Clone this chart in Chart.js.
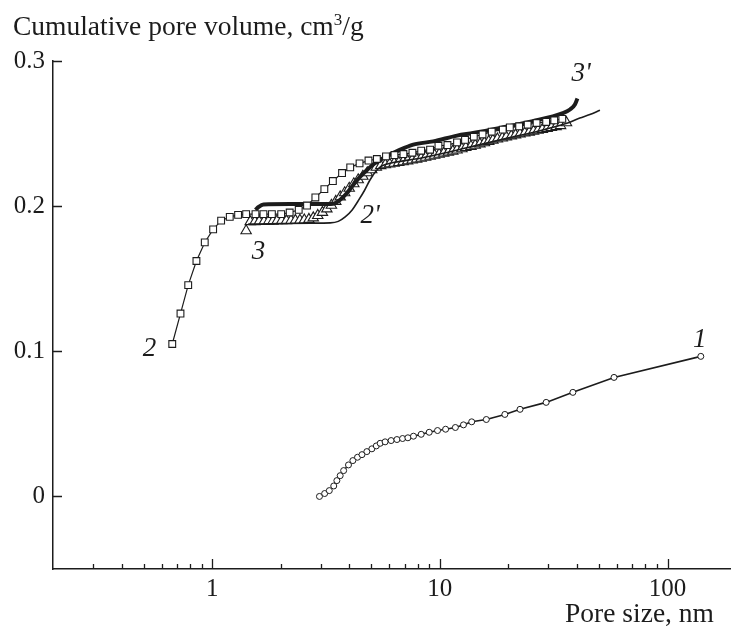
<!DOCTYPE html>
<html>
<head>
<meta charset="utf-8">
<script src="https://cdn.jsdelivr.net/npm/chart.js@4/dist/chart.umd.min.js"></script>
<style>
  html, body { margin: 0; padding: 0; background: #fff; }
  #wrap { width: 731px; height: 633px; }
</style>
</head>
<body>
<div id="wrap"><canvas id="c" width="731" height="633"></canvas></div>
<script>
// Pore size (nm) and cumulative pore volume (cm3/g) for each curve
const sizes1 = [2.96, 3.12, 3.27, 3.42, 3.53, 3.65, 3.78, 3.97, 4.15, 4.35, 4.55, 4.78, 5.03, 5.26, 5.47, 5.75,
  6.11, 6.48, 6.86, 7.24, 7.66, 8.28, 8.98, 9.77, 10.6, 11.7, 12.7, 13.8, 16.0, 19.3, 22.5, 29.3, 38.4, 58.2, 140];
const volume1 = [0, 0.002, 0.004, 0.0072, 0.0109, 0.0143, 0.0178, 0.0217, 0.0247, 0.027, 0.0288, 0.0309, 0.0328,
  0.0348, 0.0366, 0.0376, 0.0385, 0.0392, 0.0399, 0.0404, 0.0415, 0.0428, 0.0442, 0.0454, 0.0463, 0.0475, 0.0493,
  0.0514, 0.053, 0.0565, 0.060, 0.0648, 0.0717, 0.082, 0.0965];

const sizes2 = [0.668, 0.726, 0.785, 0.853, 0.928, 1.01, 1.095, 1.195, 1.30, 1.41, 1.55, 1.68, 1.83, 2.01, 2.19,
  2.40, 2.61, 2.84, 3.11, 3.39, 3.72, 4.04, 4.44, 4.86, 5.29, 5.80, 6.32, 6.92, 7.58, 8.28, 9.06, 9.86, 10.8, 11.9,
  12.9, 14.1, 15.4, 16.9, 18.9, 20.3, 22.3, 24.3, 26.6, 29.3, 31.8, 34.5];
const volume2 = [0.105, 0.126, 0.1456, 0.1622, 0.175, 0.184, 0.190, 0.1926, 0.194, 0.1945, 0.1945, 0.1945, 0.1945,
  0.1945, 0.1956, 0.1974, 0.2004, 0.206, 0.2117, 0.2173, 0.2228, 0.2267, 0.2295, 0.2314, 0.2325, 0.2343, 0.2352,
  0.2359, 0.2368, 0.2382, 0.2389, 0.2416, 0.2421, 0.2439, 0.2457, 0.2478, 0.2494, 0.2513, 0.2527, 0.2543, 0.2550,
  0.2561, 0.2573, 0.2580, 0.2591, 0.2601];

const sizes3 = [1.41, 1.47, 1.54, 1.61, 1.69, 1.77, 1.85, 1.93, 2.02, 2.12, 2.22, 2.32, 2.43, 2.54, 2.66, 2.78,
  2.91, 3.05, 3.19, 3.34, 3.49, 3.65, 3.82, 4.00, 4.19, 4.38, 4.59, 4.80, 5.02, 5.26, 5.50, 5.76, 6.02, 6.30, 6.60,
  6.90, 7.22, 7.56, 7.91, 8.28, 8.66, 9.07, 9.49, 9.93, 10.4, 10.9, 11.4, 11.9, 12.5, 13.0, 13.7, 14.3, 15.0, 15.7,
  16.4, 17.1, 17.9, 18.8, 19.6, 20.6, 21.5, 22.5, 23.6, 24.7, 25.8, 27.0, 28.2, 29.6, 30.9, 32.4, 33.9, 36.0];
const volume3 = [0.183, 0.1893, 0.1893, 0.1895, 0.1895, 0.1897, 0.1897, 0.1899, 0.1899, 0.1900, 0.1901, 0.1902,
  0.1903, 0.1905, 0.1909, 0.1919, 0.1936, 0.1957, 0.1981, 0.2006, 0.2033, 0.2064, 0.2092, 0.2123, 0.2154, 0.2182,
  0.2206, 0.2230, 0.2251, 0.2268, 0.2279, 0.2285, 0.2291, 0.2296, 0.2301, 0.2306, 0.2312, 0.2318, 0.2324, 0.2330,
  0.2337, 0.2344, 0.2351, 0.2358, 0.2365, 0.2372, 0.2379, 0.2387, 0.2395, 0.2404, 0.2412, 0.2420, 0.2429, 0.2437,
  0.2446, 0.2455, 0.2463, 0.2470, 0.2477, 0.2484, 0.2491, 0.2498, 0.2504, 0.2510, 0.2517, 0.2523, 0.2529, 0.2536,
  0.2542, 0.2548, 0.2555, 0.2575];

// Model curves 2' (thin) and 3' (thick)
const sizes2p = [1.44, 1.99, 2.70, 3.30, 3.58, 3.84, 4.12, 4.38, 4.66, 4.94, 5.26, 5.58, 6.18, 8.20, 11.1, 15.0,
  20.3, 27.5, 35.8, 41.2, 45.6, 50.5];
const volume2p = [0.1876, 0.188, 0.1883, 0.1885, 0.1895, 0.1926, 0.1974, 0.2037, 0.2106, 0.2182, 0.2244, 0.2278,
  0.2299, 0.2330, 0.2375, 0.2424, 0.2472, 0.2520, 0.2569, 0.2607, 0.2631, 0.2661];

const sizes3p = [1.55, 1.60, 1.68, 2.21, 2.99, 3.40, 3.65, 3.92, 4.17, 4.47, 4.80, 5.15, 5.53, 6.70, 7.64, 9.35,
  11.9, 14.0, 18.4, 25.6, 34.7, 37.3, 39.2, 40.2];
const volume3p = [0.1974, 0.1995, 0.2012, 0.2014, 0.2014, 0.2016, 0.2044, 0.2092, 0.2147, 0.2203, 0.2251, 0.2292,
  0.2323, 0.2389, 0.2424, 0.2446, 0.2486, 0.2504, 0.2539, 0.2585, 0.2641, 0.2666, 0.2700, 0.2742];

// Axis ticks
const xMajorTicks = [1, 10, 100];
const xMinorTicks = [0.3, 0.4, 0.5, 0.6, 0.7, 0.8, 0.9, 2, 3, 4, 5, 6, 7, 8, 9, 20, 30, 40, 50, 60, 70, 80, 90];
const yTicks = [0, 0.1, 0.2, 0.3];

// Curve labels: text and the (size, volume) point each one is centred on
const curveLabels = ['1', '2', '3', "2'", "3'"];
const labelSizes = [138.6, 0.531, 1.596, 4.94, 41.7];
const labelVolumes = [0.1076, 0.1015, 0.1688, 0.1933, 0.2914];

const INK = '#1c1c1c';
const SERIF = '"Liberation Serif", "DejaVu Serif", serif';

const pts = (xs, ys) => xs.map((x, i) => ({ x, y: ys[i] }));

const axisDecor = {
  id: 'axisDecor',
  afterDraw(chart) {
    const { ctx, chartArea: a, scales: { x, y } } = chart;
    ctx.save();
    ctx.strokeStyle = INK;
    ctx.lineWidth = 1.3;
    ctx.beginPath();
    // inward ticks on the value axis
    yTicks.forEach(v => {
      const py = Math.round(y.getPixelForValue(v)) + 0.5;
      ctx.moveTo(a.left, py);
      ctx.lineTo(a.left + 9, py);
    });
    // inward ticks on the size axis
    xMajorTicks.forEach(v => {
      const px = Math.round(x.getPixelForValue(v)) + 0.5;
      ctx.moveTo(px, a.bottom);
      ctx.lineTo(px, a.bottom - 10);
    });
    xMinorTicks.forEach(v => {
      const px = Math.round(x.getPixelForValue(v)) + 0.5;
      ctx.moveTo(px, a.bottom);
      ctx.lineTo(px, a.bottom - 5);
    });
    ctx.stroke();

    ctx.fillStyle = INK;
    ctx.textBaseline = 'alphabetic';
    // value axis title with superscript
    ctx.textAlign = 'left';
    ctx.font = '27.5px ' + SERIF;
    const t1 = 'Cumulative pore volume, cm';
    ctx.fillText(t1, 13, 35);
    let w = ctx.measureText(t1).width;
    ctx.font = '17px ' + SERIF;
    ctx.fillText('3', 13 + w, 25);
    w += ctx.measureText('3').width;
    ctx.font = '27.5px ' + SERIF;
    ctx.fillText('/g', 13 + w, 35);

    // size axis title
    ctx.textAlign = 'right';
    ctx.fillText('Pore size, nm', 714, 622);

    // curve labels
    ctx.font = 'italic 27px ' + SERIF;
    ctx.textAlign = 'center';
    ctx.textBaseline = 'middle';
    curveLabels.forEach((t, i) => {
      ctx.fillText(t, x.getPixelForValue(labelSizes[i]), y.getPixelForValue(labelVolumes[i]));
    });
    ctx.restore();
  }
};

new Chart(document.getElementById('c'), {
  type: 'scatter',
  data: {
    datasets: [
      {
        data: pts(sizes1, volume1), showLine: true, order: 1,
        borderColor: INK, borderWidth: 1.6,
        pointStyle: 'circle', pointRadius: 3, pointBorderWidth: 1,
        pointBorderColor: INK, pointBackgroundColor: '#fff'
      },
      {
        data: pts(sizes2, volume2), showLine: true, order: 2,
        borderColor: INK, borderWidth: 1.2,
        pointStyle: 'rect', pointRadius: 4.8, pointBorderWidth: 1.1,
        pointBorderColor: INK, pointBackgroundColor: '#fff'
      },
      {
        data: pts(sizes3p, volume3p), showLine: true, order: 3,
        borderColor: INK, borderWidth: 4, pointRadius: 0,
        cubicInterpolationMode: 'monotone'
      },
      {
        data: pts(sizes2p, volume2p), showLine: true, order: 4,
        borderColor: INK, borderWidth: 1.6, pointRadius: 0,
        cubicInterpolationMode: 'monotone'
      },
      {
        data: pts(sizes3, volume3), showLine: false, order: 5,
        pointStyle: 'triangle', pointRadius: 6, pointBorderWidth: 1.1,
        pointBorderColor: INK, pointBackgroundColor: '#fff'
      }
    ]
  },
  options: {
    responsive: false,
    animation: false,
    devicePixelRatio: 1,
    layout: { autoPadding: false, padding: { left: 0, right: 0, top: 61, bottom: 0 } },
    plugins: { legend: { display: false }, tooltip: { enabled: false } },
    scales: {
      x: {
        type: 'logarithmic', min: 0.2, max: 190,
        grid: { display: false, drawTicks: false },
        border: { display: true, color: INK, width: 1.5 },
        afterBuildTicks: s => { s.ticks = xMajorTicks.map(v => ({ value: v })); },
        afterFit: s => { s.height = 64; s.paddingLeft = 0; s.paddingRight = 0; },
        ticks: {
          autoSkip: false, maxRotation: 0, padding: 5, color: INK,
          font: { family: SERIF, size: 25 },
          callback: v => String(v)
        }
      },
      y: {
        type: 'linear', min: -0.05, max: 0.3,
        grid: { display: false, drawTicks: false },
        border: { display: true, color: INK, width: 1.5 },
        afterBuildTicks: s => { s.ticks = yTicks.map(v => ({ value: v })); },
        afterFit: s => { s.width = 53; },
        ticks: {
          padding: 8, color: INK,
          font: { family: SERIF, size: 25 },
          callback: v => (v === 0 ? '0' : v.toFixed(1))
        }
      }
    }
  },
  plugins: [axisDecor]
});
</script>
</body>
</html>
